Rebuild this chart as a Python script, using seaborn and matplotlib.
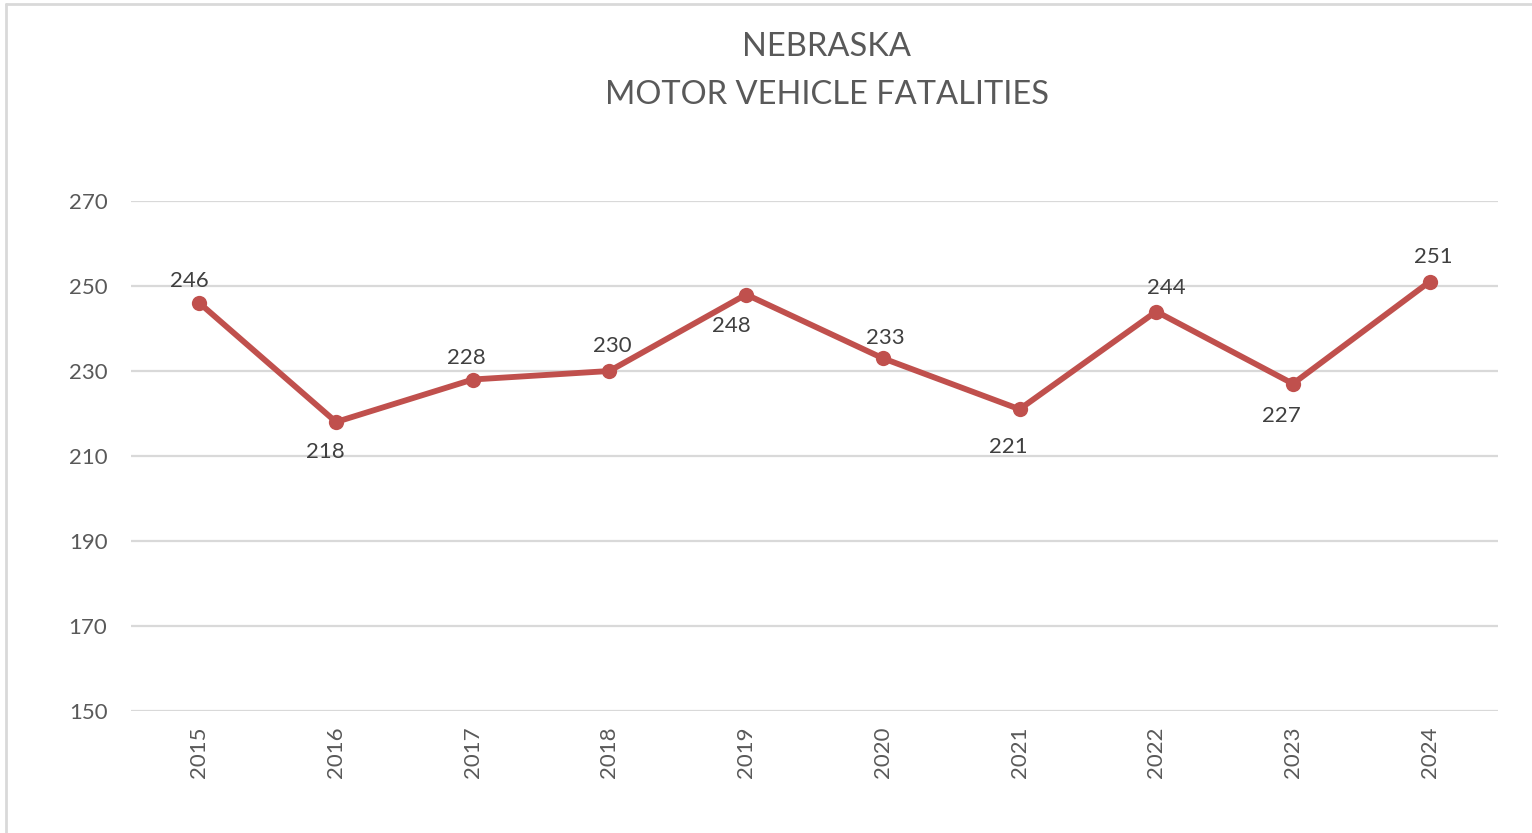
import matplotlib
matplotlib.use("Agg")
import matplotlib.pyplot as plt
import seaborn as sns
import pandas as pd

years = ["2015", "2016", "2017", "2018", "2019", "2020", "2021", "2022", "2023", "2024"]
fatalities = [246, 218, 228, 230, 248, 233, 221, 244, 227, 251]
# data label offsets in pixels (dx, dy), as Excel placed them
label_offsets = [(-10, 22), (-11, -30), (-6, 22), (3, 25), (-15, -31),
                 (2, 20), (-11, -38), (10, 24), (-12, -32), (4, 25)]

sns.set_theme(style="white")
plt.rcParams["font.family"] = ["Lato", "DejaVu Sans"]

df = pd.DataFrame({"year": years, "fatalities": fatalities})

fig = plt.figure(figsize=(15.32, 8.33), dpi=100)
ax = fig.add_axes([131 / 1532, 122 / 833, 1367 / 1532, 510 / 833])

sns.lineplot(data=df, x="year", y="fatalities", ax=ax, color="#C0504D",
             linewidth=4.2, marker="o", markersize=11, markeredgewidth=0,
             sort=False)

for i, (yr, val) in enumerate(zip(years, fatalities)):
    dx, dy = label_offsets[i]
    ax.annotate(str(val), (i, val), xytext=(dx, dy), textcoords="offset pixels",
                ha="center", va="center", fontsize=16, color="#404040")

ax.set_xlim(-0.5, len(years) - 0.5)
ax.set_ylim(150, 270)
ax.set_yticks(range(150, 271, 20))
ax.yaxis.grid(True, color="#D9D9D9", linewidth=1.6)
ax.set_axisbelow(True)
for s in ax.spines.values():
    s.set_visible(False)
ax.tick_params(axis="y", labelsize=16, labelcolor="#595959", length=0, pad=17)
ax.tick_params(axis="x", labelsize=16, labelcolor="#595959", length=0, pad=11,
               labelrotation=90)
ax.set_xlabel("")
ax.set_ylabel("")

fig.text(0.5395, 1 - 47 / 833, "NEBRASKA", ha="center", va="center",
         fontsize=23.5, color="#595959")
fig.text(0.5395, 1 - 95 / 833, "MOTOR VEHICLE FATALITIES", ha="center",
         va="center", fontsize=23.5, color="#595959")

# chart area border (only left and top edges visible in the crop)
fig.add_artist(plt.Line2D([6 / 1532, 6 / 1532], [0, 1 - 4 / 833],
                          transform=fig.transFigure, color="#D9D9D9", linewidth=2))
fig.add_artist(plt.Line2D([6 / 1532, 1], [1 - 4 / 833, 1 - 4 / 833],
                          transform=fig.transFigure, color="#D9D9D9", linewidth=2))

fig.savefig("out.png", dpi=100, facecolor="white")
